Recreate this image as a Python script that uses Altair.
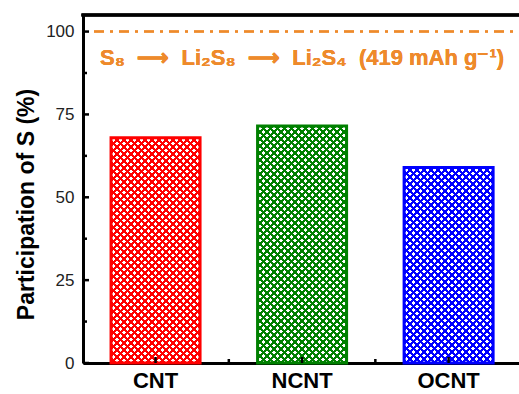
import math
import altair as alt
import pandas as pd

# ---- data ----
categories = ["CNT", "NCNT", "OCNT"]
values = [68.0, 71.5, 59.0]
colors = ["#FF0000", "#008000", "#0000FF"]
y_major = [0, 25, 50, 75, 100]
y_minor = [12.5, 37.5, 62.5, 87.5]
ref_level = 100
annot_level = 92
y_max = 105
NB = "\u00a0"
annotation = f"S₈ {NB}⟶{NB} Li₂S₈ {NB}⟶{NB} Li₂S₄ {NB}(419 mAh g⁻¹)"
y_title = "Participation of S (%)"

# ---- layout ----
W, H = 436, 348
P_IN, P_OUT, ALIGN = 0.3925, 0.184, 0.52
STEP = W / (len(categories) - P_IN + 2 * P_OUT)
BW = STEP * (1 - P_IN)
FONT = "Liberation Sans"
ORANGE = "#EE8A2B"

df = pd.DataFrame({"cat": categories, "value": values, "col": colors})

xscale = alt.Scale(domain=categories, paddingInner=P_IN, paddingOuter=P_OUT, align=ALIGN)
yscale = alt.Scale(domain=[0, y_max], nice=False, zero=True)

x_axis = alt.Axis(title=None, labelAngle=0, ticks=False, labelFont=FONT, labelFontSize=22,
                  labelFontWeight="bold", labelColor="black", labelPadding=7,
                  domainColor="black", domainWidth=3, grid=False)
y_axis = alt.Axis(title=y_title, values=y_major, ticks=False, labelFont=FONT, labelFontSize=17,
                  labelColor="#222", labelPadding=9, domainColor="black", domainWidth=3,
                  grid=False, titleFont=FONT, titleFontSize=23, titleFontWeight="bold",
                  titleColor="black", titleAngle=270, titleX=-50, titleY=189,
                  titleAlign="center", titleBaseline="alphabetic")

X = alt.X("cat:N", scale=xscale, axis=x_axis, sort=categories)
Y = alt.Y("value:Q", scale=yscale, axis=y_axis)


def hatch_gradient(w, h, direction, color, period=7.0, frac=0.47):
    denom = w * w + h * h
    dt = period * w / denom
    n = int(math.ceil((w + h) / period)) + 2
    clear = "rgba(255,255,255,0)"
    stops = []
    for k in range(n):
        a, b, c = k * dt, (k + frac) * dt, (k + 1) * dt
        if a >= 1:
            break
        b, c = min(b, 1), min(c, 1)
        stops += [alt.GradientStop(offset=a, color=color),
                  alt.GradientStop(offset=b, color=color),
                  alt.GradientStop(offset=b, color=clear),
                  alt.GradientStop(offset=c, color=clear)]
    r = h / w
    if direction == 1:
        return alt.LinearGradient(gradient="linear", stops=stops, x1=0, y1=0, x2=1, y2=r)
    return alt.LinearGradient(gradient="linear", stops=stops, x1=1, y1=0, x2=0, y2=r)


base = alt.Chart(df)
layers = []
for cat, val, col in zip(categories, values, colors):
    h = val * H / y_max
    for d in (1, 2):
        layers.append(
            base.mark_bar(fill=hatch_gradient(BW, h, d, col), strokeWidth=0)
            .transform_filter(alt.datum.cat == cat)
            .encode(x=X, y=Y)
        )

outline = base.mark_bar(fillOpacity=0, strokeWidth=3).encode(
    x=X, y=Y,
    stroke=alt.Stroke("cat:N", scale=alt.Scale(domain=categories, range=colors), legend=None),
)

ticks_major = alt.Chart(pd.DataFrame({"value": y_major})).mark_rule(
    color="black", strokeWidth=2.5).encode(y=Y, x=alt.value(0), x2=alt.value(6))
ticks_minor = alt.Chart(pd.DataFrame({"value": y_minor})).mark_rule(
    color="black", strokeWidth=2.5).encode(y=Y, x=alt.value(0), x2=alt.value(4))

xt_major = alt.Chart(pd.DataFrame({"cat": categories})).mark_rule(
    color="black", strokeWidth=2.5).encode(x=X, y=alt.value(H), y2=alt.value(H - 6))
xt_minor = alt.Chart(pd.DataFrame({"cat": categories[:-1]})).mark_rule(
    color="black", strokeWidth=2.5, xOffset=STEP / 2).encode(x=X, y=alt.value(H), y2=alt.value(H - 4))

top_frame = alt.Chart(df).mark_rule(color="black", strokeWidth=3, strokeCap="square").encode(
    y=alt.datum(y_max))

ref_line = alt.Chart(df).mark_rule(color=ORANGE, strokeWidth=2, strokeDash=[10, 6, 3, 6]).encode(
    y=alt.datum(ref_level), x=alt.value(11), x2=alt.value(W))

annot = alt.Chart(df).mark_text(font=FONT, fontSize=22, fontWeight="bold", color=ORANGE,
                                align="center", baseline="middle").encode(
    x=alt.datum("NCNT"), y=alt.datum(annot_level), text=alt.value(annotation))

chart = alt.layer(*layers, outline, ticks_major, ticks_minor, xt_major, xt_minor,
                  top_frame, ref_line, annot).properties(
    width=W, height=H,
    autosize=alt.AutoSizeParams(type="none"),
    padding={"left": 83, "top": 15, "right": 0, "bottom": 31},
    background="white",
).configure_view(stroke=None)

chart.save("out.html", embed_options={"renderer": "svg", "actions": False})
